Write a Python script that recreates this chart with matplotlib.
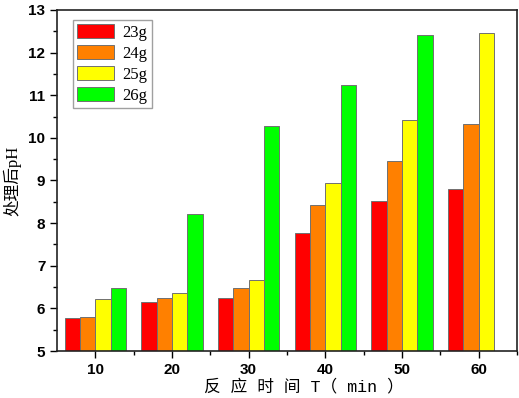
# -*- coding:utf-8 -*-
import matplotlib
matplotlib.use('Agg')
import matplotlib.pyplot as plt
import numpy as np

# 反应时间 (min)
times = [10, 20, 30, 40, 50, 60]
labels = ['23g', '24g', '25g', '26g']
ph_23g = [5.78, 6.14, 6.24, 7.78, 8.52, 8.79]
ph_24g = [5.81, 6.25, 6.49, 8.42, 9.45, 10.32]
ph_25g = [6.21, 6.37, 6.67, 8.93, 10.42, 12.46]
ph_26g = [6.49, 8.21, 10.28, 11.24, 12.41, np.nan]
colors = ['#FF0000', '#FF8000', '#FFFF00', '#00FF00']

fig = plt.figure(figsize=(5.19, 3.98), dpi=100)
ax = fig.add_axes([0.110, 0.118, 0.886, 0.857])

x = np.array(times)
series = [ph_23g, ph_24g, ph_25g, ph_26g]
offsets = [-3, -1, 1, 3]
for vals, off, c, lab in zip(series, offsets, colors, labels):
    ax.bar(x + off, np.array(vals) - 5, bottom=5, width=2, color=c,
           edgecolor='#707070', linewidth=0.7, label=lab)

ax.set_xlim(5, 65)
ax.set_ylim(5, 13)
ax.set_xticks(times)
ax.set_xticks([15, 25, 35, 45, 55, 65], minor=True)
ax.set_yticks(range(5, 14))
ax.set_yticks(np.arange(5.5, 13, 1), minor=True)
ax.tick_params(which='both', direction='out', top=False, right=False)
ax.tick_params(which='major', length=5, width=1)
ax.tick_params(which='minor', length=3, width=1)
for t in ax.get_xticklabels() + ax.get_yticklabels():
    t.set_fontfamily('Liberation Sans')
    t.set_fontweight('bold')
    t.set_fontsize(11)
for s in ax.spines.values():
    s.set_linewidth(1.2)
    s.set_color('#222222')

ax.set_xlabel('反 应 时 间 T（ min ）', fontsize=12,
              family=['Liberation Mono', 'Noto Sans CJK SC'])
ax.xaxis.set_label_coords(0.537, -0.082)
ax.set_ylabel('处理后pH', fontsize=12,
              family=['Liberation Serif', 'Noto Sans CJK SC'], labelpad=5)

leg = ax.legend(loc='upper left', bbox_to_anchor=(0.035, 0.97), fancybox=False,
                prop={'family': 'Liberation Serif', 'size': 12},
                handlelength=2.2, handleheight=0.9, labelspacing=0.25,
                borderpad=0.25, handletextpad=0.5, borderaxespad=0)
leg.get_frame().set_edgecolor('#888888')
leg.get_frame().set_linewidth(1.0)

plt.savefig('out.png', dpi=100)
